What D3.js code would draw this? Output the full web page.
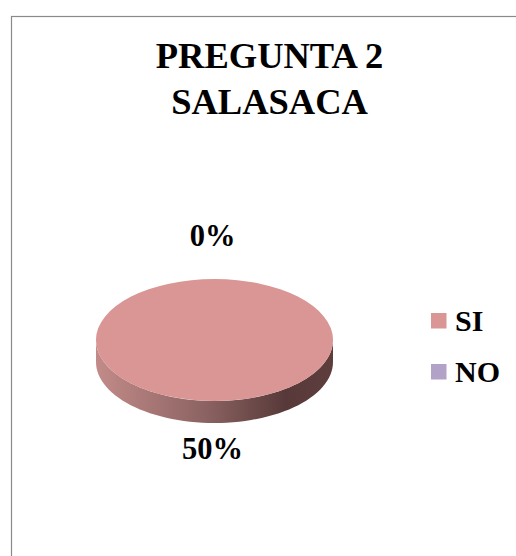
<!doctype html>
<html>
<head>
<meta charset="utf-8">
<script src="https://d3js.org/d3.v7.min.js"></script>
<style>
  body { margin: 0; background: #fff; }
  svg { display: block; }
</style>
</head>
<body>
<script>
// data
var categories = ["SI", "NO"];
var values = [50, 0];
var pctLabels = ["50%", "0%"];
var colors = ["#D99694", "#B3A2C7"];
var titleLines = ["PREGUNTA 2", "SALASACA"];

var width = 516, height = 556;
var cx = 214.5, cy = 340, rx = 118.5, ry = 61, depth = 22;
var fontName = "'Liberation Serif'";

var svg = d3.select("body").append("svg").attr("width", width).attr("height", height);

// chart area border (runs off the right and bottom edges)
svg.append("rect")
  .attr("x", 11.5).attr("y", 16.5)
  .attr("width", 530).attr("height", 560)
  .attr("fill", "none").attr("stroke", "#8a8a8a").attr("stroke-width", 1.2);

// title
svg.append("g").selectAll("text").data(titleLines).enter().append("text")
  .attr("x", 269.5)
  .attr("y", function(d, i) { return 68 + i * 46; })
  .attr("text-anchor", "middle")
  .style("font-family", fontName).style("font-weight", "bold")
  .style("font-size", "36.5px")
  .text(function(d) { return d; });

var pie = d3.pie().sort(null).startAngle(0).endAngle(2 * Math.PI);
var arcs = pie(values);

var defs = svg.append("defs");
arcs.forEach(function(a, i) {
  var g = defs.append("linearGradient").attr("id", "side" + i)
    .attr("gradientUnits", "userSpaceOnUse")
    .attr("x1", cx - rx).attr("x2", cx + rx).attr("y1", 0).attr("y2", 0);
  g.append("stop").attr("offset", "0%").attr("stop-color", "#C28B89");
  g.append("stop").attr("offset", "45%").attr("stop-color", "#8D6463");
  g.append("stop").attr("offset", "80%").attr("stop-color", "#583939");
  g.append("stop").attr("offset", "100%").attr("stop-color", "#5E3D3D");
});

function pt(a, dy) {
  return [cx + Math.sin(a) * rx, cy - Math.cos(a) * ry + (dy || 0)];
}

// side walls (only the front half is visible)
var sideG = svg.append("g");
arcs.forEach(function(a, i) {
  var s = Math.max(a.startAngle, Math.PI / 2), e = Math.min(a.endAngle, 3 * Math.PI / 2);
  if (e <= s) return;
  var n = 60, top = [], bot = [];
  for (var k = 0; k <= n; k++) {
    var t = s + (e - s) * k / n;
    top.push(pt(t));
    bot.push(pt(t, depth));
  }
  var poly = top.concat(bot.reverse());
  sideG.append("path")
    .attr("d", d3.line()(poly) + "Z")
    .attr("fill", "url(#side" + i + ")");
});

// top face
var arc = d3.arc().innerRadius(0).outerRadius(rx);
svg.append("g")
  .attr("transform", "translate(" + cx + "," + cy + ") scale(1," + (ry / rx) + ")")
  .selectAll("path").data(arcs).enter().append("path")
  .attr("d", arc)
  .attr("fill", function(d, i) { return colors[i]; });

// percentage labels (outside the pie, lower ones pushed below the wall)
svg.append("g").selectAll("text").data(arcs).enter().append("text")
  .attr("x", function(d) { var m = (d.startAngle + d.endAngle) / 2; return cx + Math.sin(m) * 100 - 2; })
  .attr("y", function(d) {
    var m = (d.startAngle + d.endAngle) / 2, c = Math.cos(m);
    return cy - c * 105 + (c < 0 ? depth * 0.15 : 0);
  })
  .attr("dy", "0.35em")
  .attr("text-anchor", "middle")
  .style("font-family", fontName).style("font-weight", "bold")
  .style("font-size", "30.5px")
  .text(function(d, i) { return pctLabels[i]; });

// legend
var leg = svg.append("g").selectAll("g").data(categories).enter().append("g")
  .attr("transform", function(d, i) { return "translate(431," + (313 + i * 51) + ")"; });
leg.append("rect").attr("width", 15.5).attr("height", 15.5)
  .attr("fill", function(d, i) { return colors[i]; });
leg.append("text").attr("x", 24).attr("y", 18)
  .style("font-family", fontName).style("font-weight", "bold")
  .style("font-size", "30px")
  .text(function(d) { return d; });
</script>
</body>
</html>
